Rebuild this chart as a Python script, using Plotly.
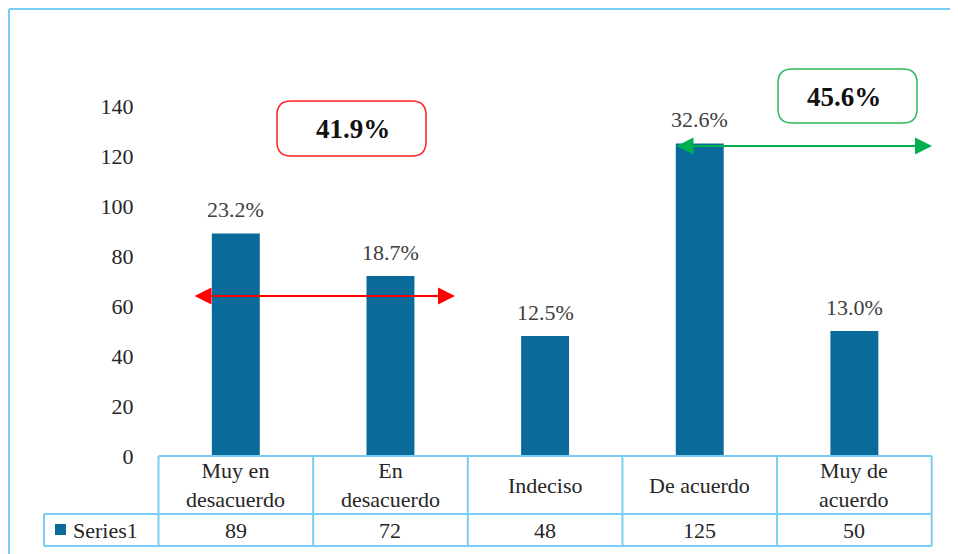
import plotly.graph_objects as go

categories = ["Muy en<br>desacuerdo", "En<br>desacuerdo", "Indeciso", "De acuerdo", "Muy de<br>acuerdo"]
values = [89, 72, 48, 125, 50]
percent_labels = ["23.2%", "18.7%", "12.5%", "32.6%", "13.0%"]
series_name = "Series1"
group_labels = ["41.9%", "45.6%"]
y_ticks = [0, 20, 40, 60, 80, 100, 120, 140]

W, H = 958, 554
OFF = 8  # page body margin offset
BAR = "#0a6a9a"
GRID_BLUE = "#79cdf4"
FONT = "Liberation Serif, 'Times New Roman', Times, serif"
FS = 22

def px(x):
    return (x - OFF) / W

def py(y):
    return 1 - (y - OFF) / H

x_left, x_right = 158.5, 931.7
y_bottom, y_top = 456, 106

xs = list(range(len(values)))

fig = go.Figure()
fig.add_trace(go.Bar(x=xs, y=values, width=0.31, marker=dict(color=BAR, line=dict(width=0)),
                     showlegend=False, hoverinfo="skip"))

fig.update_layout(
    width=W, height=H, margin=dict(l=0, r=0, t=0, b=0, autoexpand=False),
    paper_bgcolor="white", plot_bgcolor="white", showlegend=False,
    font=dict(family=FONT, size=FS, color="#262626"),
    xaxis=dict(domain=[px(x_left), px(x_right)], range=[-0.5, 4.5], showticklabels=False,
               showgrid=False, zeroline=False, showline=False, fixedrange=True, automargin=False),
    yaxis=dict(domain=[py(y_bottom), py(y_top)], range=[0, 140], tickvals=y_ticks,
               showgrid=False, zeroline=False, showline=False, ticks="", automargin=False,
               ticklabelstandoff=24, tickfont=dict(family=FONT, size=FS, color="#262626")),
)

shapes = []
annotations = []

lw = 2
def hline(x0, x1, y):
    shapes.append(dict(type="line", xref="paper", yref="paper", x0=px(x0), x1=px(x1), y0=py(y), y1=py(y),
                       line=dict(color=GRID_BLUE, width=lw)))
def vline(x, y0, y1):
    shapes.append(dict(type="line", xref="paper", yref="paper", x0=px(x), x1=px(x), y0=py(y0), y1=py(y1),
                       line=dict(color=GRID_BLUE, width=lw)))

# outer border (top and left edges visible in the frame)
hline(9, 975, 9)
vline(9, 9, 575)

# data labels above bars
for i, (v, t) in enumerate(zip(values, percent_labels)):
    annotations.append(dict(x=i, y=v, xref="x", yref="y", text=t, showarrow=False, yanchor="bottom",
                            xanchor="center", yshift=9, font=dict(family=FONT, size=FS, color="#404040")))

# data table
col_edges = [x_left + (x_right - x_left) * k / len(values) for k in range(len(values) + 1)]
row_top, row_mid, row_bot = 456, 514, 546
hline(x_left, x_right, row_top)
hline(44, x_right, row_mid)
hline(44, x_right, row_bot)
vline(44, row_mid, row_bot)
for e in col_edges:
    vline(e, row_top, row_bot)

for i, (c, v) in enumerate(zip(categories, values)):
    annotations.append(dict(x=i, y=py(485), xref="x", yref="paper", text=c, showarrow=False,
                            xanchor="center", yanchor="middle", font=dict(family=FONT, size=FS, color="#262626")))
    annotations.append(dict(x=i, y=py(530), xref="x", yref="paper", text=str(v), showarrow=False,
                            xanchor="center", yanchor="middle", font=dict(family=FONT, size=FS, color="#262626")))

# legend key
shapes.append(dict(type="rect", xref="paper", yref="paper", x0=px(55), x1=px(66), y0=py(535), y1=py(524),
                   fillcolor=BAR, line=dict(width=0)))
annotations.append(dict(x=px(71), y=py(530), xref="paper", yref="paper", text=series_name, showarrow=False,
                        xanchor="left", yanchor="middle", font=dict(family=FONT, size=FS, color="#262626")))

# double arrows
def xdata(p):
    return (p - x_left) / (x_right - x_left) * 5 - 0.5
def ydata(p):
    return (y_bottom - p) / (y_bottom - y_top) * 140

for (x0, x1, yy, col) in [(193, 455, 296, "#ff0000"), (675, 932, 146, "#00b050")]:
    annotations.append(dict(x=xdata(x1), y=ydata(yy), ax=xdata(x0), ay=ydata(yy), xref="x", yref="y",
                            axref="x", ayref="y", text="", showarrow=True, arrowhead=2, startarrowhead=2,
                            arrowside="end+start", arrowsize=1.7, startarrowsize=1.7, arrowwidth=2,
                            arrowcolor=col))

# rounded boxes
def rrect(x0, y0, x1, y1, r, col):
    X = lambda v: px(v)
    Y = lambda v: py(v)
    p = (f"M {X(x0+r)} {Y(y0)} L {X(x1-r)} {Y(y0)} Q {X(x1)} {Y(y0)} {X(x1)} {Y(y0+r)} "
         f"L {X(x1)} {Y(y1-r)} Q {X(x1)} {Y(y1)} {X(x1-r)} {Y(y1)} "
         f"L {X(x0+r)} {Y(y1)} Q {X(x0)} {Y(y1)} {X(x0)} {Y(y1-r)} "
         f"L {X(x0)} {Y(y0+r)} Q {X(x0)} {Y(y0)} {X(x0+r)} {Y(y0)} Z")
    shapes.append(dict(type="path", xref="paper", yref="paper", path=p,
                       line=dict(color=col, width=1.5), fillcolor="white"))

rrect(277, 101, 426, 156, 14, "#ff2020")
rrect(778, 69, 917, 123, 14, "#2cb85c")
annotations.append(dict(x=px(353), y=py(129), xref="paper", yref="paper", text=f"<b>{group_labels[0]}</b>",
                        xanchor="center", yanchor="middle",
                        showarrow=False, font=dict(family=FONT, size=27, color="#111111")))
annotations.append(dict(x=px(844), y=py(97), xref="paper", yref="paper", text=f"<b>{group_labels[1]}</b>",
                        xanchor="center", yanchor="middle",
                        showarrow=False, font=dict(family=FONT, size=27, color="#111111")))

fig.update_layout(shapes=shapes, annotations=annotations)
fig.write_html("out.html")
